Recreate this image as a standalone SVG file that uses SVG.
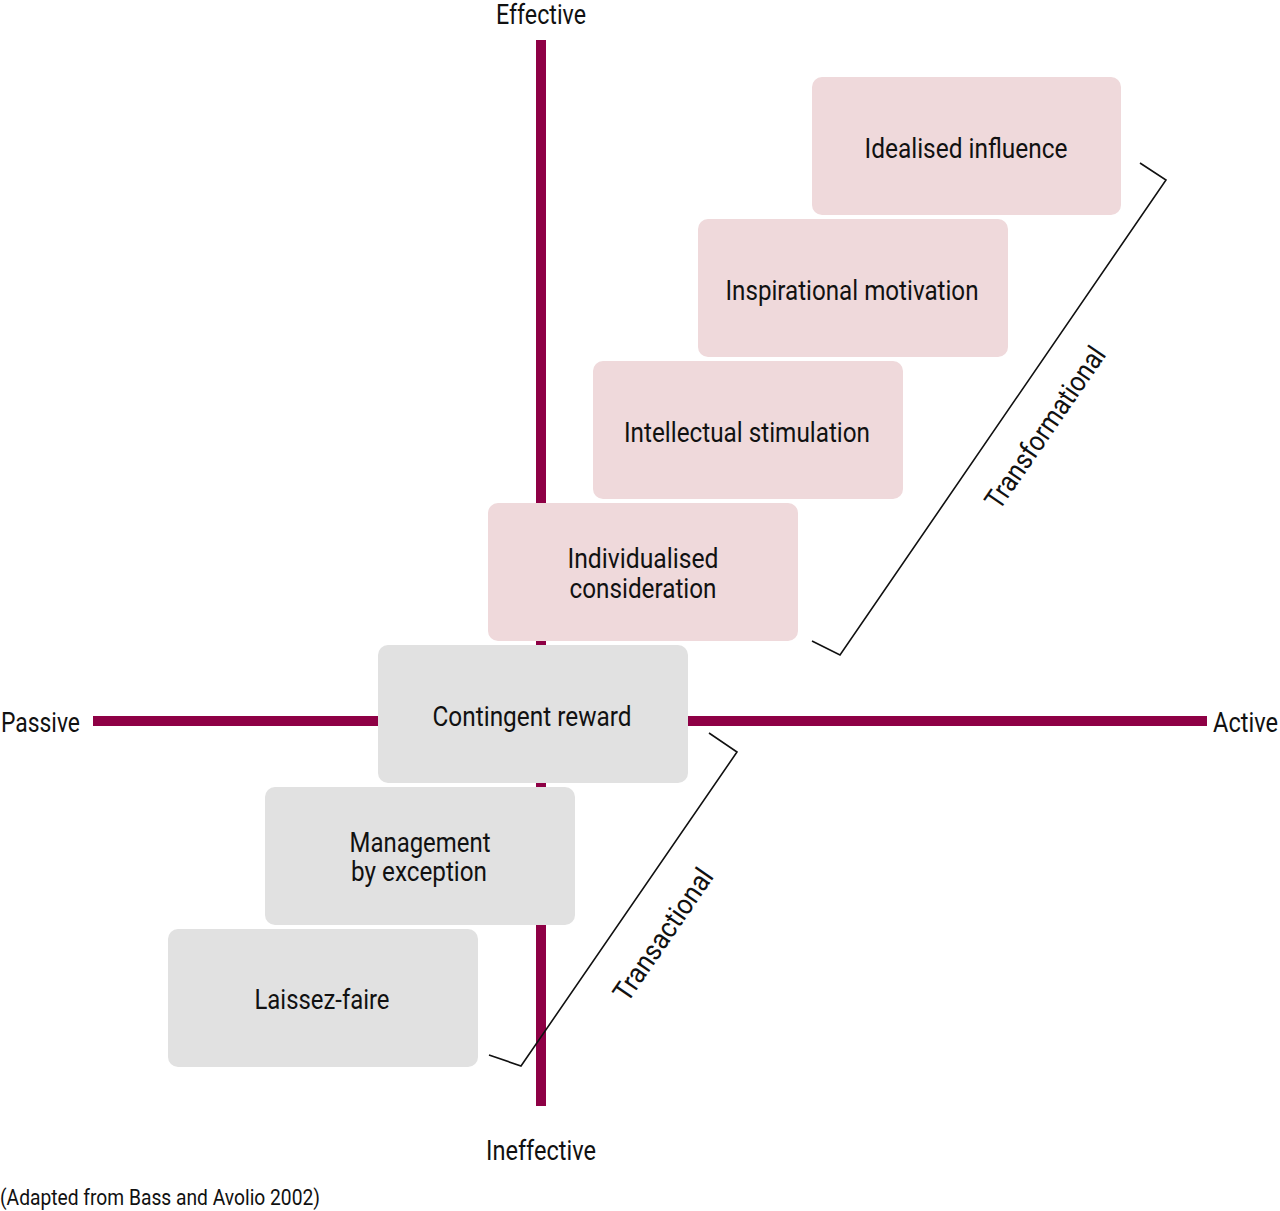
<svg xmlns="http://www.w3.org/2000/svg" width="1280" height="1211" viewBox="0 0 1280 1211">
<style>
text{font-family:Roboto,"Liberation Sans",sans-serif;fill:#111;}
.lbl{font-size:28px;text-anchor:middle;}
.ax{font-size:28px;}
.pink{fill:#EFD9DB;}
.gray{fill:#E1E1E1;}
.axis{fill:#8E0045;}
.br{fill:none;stroke:#111;stroke-width:1.6;}
</style>
<rect width="1280" height="1211" fill="#fff"/>
<g id="axes">
<rect class="axis" x="536" y="40" width="10" height="1066"/>
<rect class="axis" x="93" y="716" width="1114" height="10"/>
</g>
<g id="axis-labels">
<text class="ax" x="496" y="24" textLength="90" lengthAdjust="spacingAndGlyphs">Effective</text>
<text class="ax" x="486" y="1160" textLength="110" lengthAdjust="spacingAndGlyphs">Ineffective</text>
<text class="ax" x="1" y="732" textLength="79" lengthAdjust="spacingAndGlyphs">Passive</text>
<text class="ax" x="1213" y="732" textLength="65" lengthAdjust="spacingAndGlyphs">Active</text>
</g>
<g id="n1"><rect class="pink" x="812" y="77" width="309" height="138" rx="10"/><text class="lbl" x="966" y="158" textLength="203" lengthAdjust="spacingAndGlyphs">Idealised influence</text></g>
<g id="n2"><rect class="pink" x="698" y="219" width="310" height="138" rx="10"/><text class="lbl" x="852" y="300" textLength="253" lengthAdjust="spacingAndGlyphs">Inspirational motivation</text></g>
<g id="n3"><rect class="pink" x="593" y="361" width="310" height="138" rx="10"/><text class="lbl" x="747" y="442" textLength="246" lengthAdjust="spacingAndGlyphs">Intellectual stimulation</text></g>
<g id="n4"><rect class="pink" x="488" y="503" width="310" height="138" rx="10"/><text class="lbl" x="643" y="568" textLength="151" lengthAdjust="spacingAndGlyphs">Individualised</text><text class="lbl" x="643" y="598" textLength="147" lengthAdjust="spacingAndGlyphs">consideration</text></g>
<g id="n5"><rect class="gray" x="378" y="645" width="310" height="138" rx="10"/><text class="lbl" x="532" y="726" textLength="199" lengthAdjust="spacingAndGlyphs">Contingent reward</text></g>
<g id="n6"><rect class="gray" x="265" y="787" width="310" height="138" rx="10"/><text class="lbl" x="420" y="852" textLength="141" lengthAdjust="spacingAndGlyphs">Management</text><text class="lbl" x="419" y="881" textLength="136" lengthAdjust="spacingAndGlyphs">by exception</text></g>
<g id="n7"><rect class="gray" x="168" y="929" width="310" height="138" rx="10"/><text class="lbl" x="322" y="1009" textLength="135" lengthAdjust="spacingAndGlyphs">Laissez-faire</text></g>
<g id="connectors">
<polyline class="br" points="812,641 840,655 1166,180 1140,163"/>
<polyline class="br" points="709,733 737,752 521,1066 489,1055"/>
</g>
<g id="bracket-labels">
<text class="lbl" transform="translate(1053,433) rotate(-55.5)" textLength="190" lengthAdjust="spacingAndGlyphs">Transformational</text>
<text class="lbl" transform="translate(671,940) rotate(-55.5)" textLength="154" lengthAdjust="spacingAndGlyphs">Transactional</text>
</g>
<text x="0" y="1205" style="font-size:22px" textLength="320" lengthAdjust="spacingAndGlyphs">(Adapted from Bass and Avolio 2002)</text>
</svg>
